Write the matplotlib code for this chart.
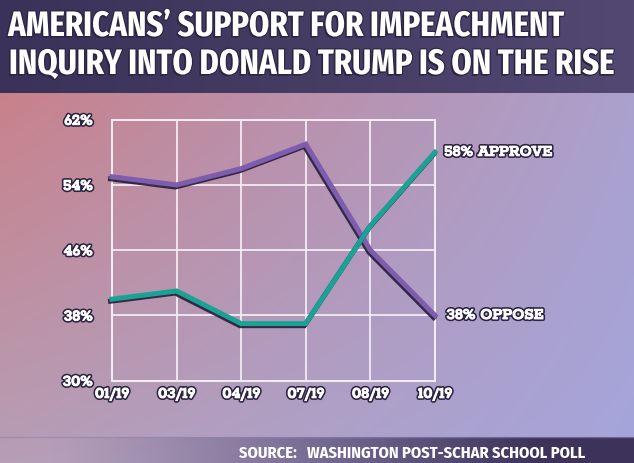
import numpy as np
import matplotlib
matplotlib.use('Agg')
import matplotlib.pyplot as plt
import matplotlib.patheffects as pe

# Poll data
months = ['01/19', '03/19', '04/19', '07/19', '08/19', '10/19']
oppose = [55, 54, 56, 59, 46, 38]
approve = [40, 41, 37, 37, 49, 58]
y_ticks = [30, 38, 46, 54, 62]

title_1 = "AMERICANS\u2019 SUPPORT FOR IMPEACHMENT"
title_2 = "INQUIRY INTO DONALD TRUMP IS ON THE RISE"
source = "SOURCE:   WASHINGTON POST-SCHAR SCHOOL POLL"

W, H = 634, 464
fig = plt.figure(figsize=(W / 100, H / 100), dpi=100)

# background gradient (pinkish red top-left -> lavender bottom-right)
bg = fig.add_axes([0, 0, 1, 1], zorder=0)
bg.set_xlim(0, W)
bg.set_ylim(H, 0)
bg.axis('off')
tl = np.array([205, 122, 128]) / 255
tr = np.array([172, 160, 202]) / 255
bl = np.array([182, 158, 182]) / 255
br = np.array([165, 165, 220]) / 255
u = np.linspace(0, 1, 200)[None, :, None]
v = np.linspace(0, 1, 150)[:, None, None]
img = (1 - u) * (1 - v) * tl + u * (1 - v) * tr + (1 - u) * v * bl + u * v * br
bg.imshow(img, extent=[0, W, H, 0], aspect='auto', interpolation='bilinear')

# title band
band = np.linspace(0, 1, 200)[None, :, None]
band_img = (1 - band) * (np.array([58, 50, 88]) / 255) + band * (np.array([82, 72, 114]) / 255)
bg.imshow(np.repeat(band_img, 2, axis=0), extent=[0, W, 94, 0], aspect='auto')

# source band, fading in from the left
src = np.zeros((2, 200, 4))
src[..., :3] = np.array([60, 50, 90]) / 255
src[..., 3] = np.clip(np.linspace(-0.1, 1.2, 200), 0, 1)[None, :] ** 1.2
bg.imshow(src, extent=[0, W, H, 438], aspect='auto')
bg.plot([0, W], [438, 438], color='#8c86b0', lw=1, alpha=0.6)

dark = '#2b2442'
# dark outline, then a thin white stroke to make the slab labels heavier
txt_fx = [pe.Stroke(linewidth=3.0, foreground=dark),
          pe.Stroke(linewidth=0.7, foreground='white'), pe.Normal()]
title_fx = [pe.withSimplePatchShadow(offset=(-1.2, -1.2), shadow_rgbFace=dark, alpha=1),
            pe.Stroke(linewidth=1.6, foreground=dark), pe.Normal()]

fig.text(8 / W, 1 - 37 / H, title_1, color='white', fontsize=25.5,
         family='Fira Sans Extra Condensed', fontweight='bold',
         va='baseline', ha='left', path_effects=title_fx)
fig.text(9 / W, 1 - 75 / H, title_2, color='white', fontsize=25.5,
         family='Fira Sans Extra Condensed', fontweight='bold',
         va='baseline', ha='left', path_effects=title_fx)

fig.text(239 / W, 1 - 458 / H, source, color='white', fontsize=11.8,
         family='Fira Sans Condensed', fontweight='bold',
         ha='left', va='baseline')

# main chart
ax = fig.add_axes([112 / W, 1 - 381.7 / H, 323 / W, 261 / H], zorder=2)
ax.patch.set_alpha(0)
x = np.arange(len(months))
ax.set_xlim(0, len(months) - 1)
ax.set_ylim(30, 62)
ax.set_xticks(x)
ax.set_yticks(y_ticks)
ax.set_xticklabels(months)
ax.set_yticklabels([f'{t}%' for t in y_ticks])
ax.grid(True, color='#f4eef6', lw=1.4, alpha=0.9)
for s in ax.spines.values():
    s.set_color('#f4eef6')
    s.set_linewidth(1.4)
ax.tick_params(length=0)
for lab in ax.get_xticklabels() + ax.get_yticklabels():
    lab.set_family('Rokkitt')
    lab.set_fontweight('bold')
    lab.set_fontsize(12)
    lab.set_color('white')
    lab.set_path_effects(txt_fx)
ax.tick_params(axis='x', pad=5)
ax.tick_params(axis='y', pad=14)

line_fx = [pe.SimpleLineShadow(offset=(-1, -1.5), shadow_color='#251c38', alpha=0.9), pe.Normal()]
ax.plot(x, oppose, color='#7e5cae', lw=3.6, solid_joinstyle='miter',
        path_effects=line_fx, clip_on=False, zorder=3)
ax.plot(x, approve, color='#1aa394', lw=3.6, solid_joinstyle='miter',
        path_effects=line_fx, clip_on=False, zorder=4)

ax.text(x[-1] + 0.14, approve[-1], f'{approve[-1]}% APPROVE', color='white', fontsize=12,
        family='Rokkitt', fontweight='bold',
        va='center', ha='left', path_effects=txt_fx)
ax.text(x[-1] + 0.18, oppose[-1], f'{oppose[-1]}% OPPOSE', color='white', fontsize=12,
        family='Rokkitt', fontweight='bold',
        va='center', ha='left', path_effects=txt_fx)

fig.savefig('out.png', dpi=100)
